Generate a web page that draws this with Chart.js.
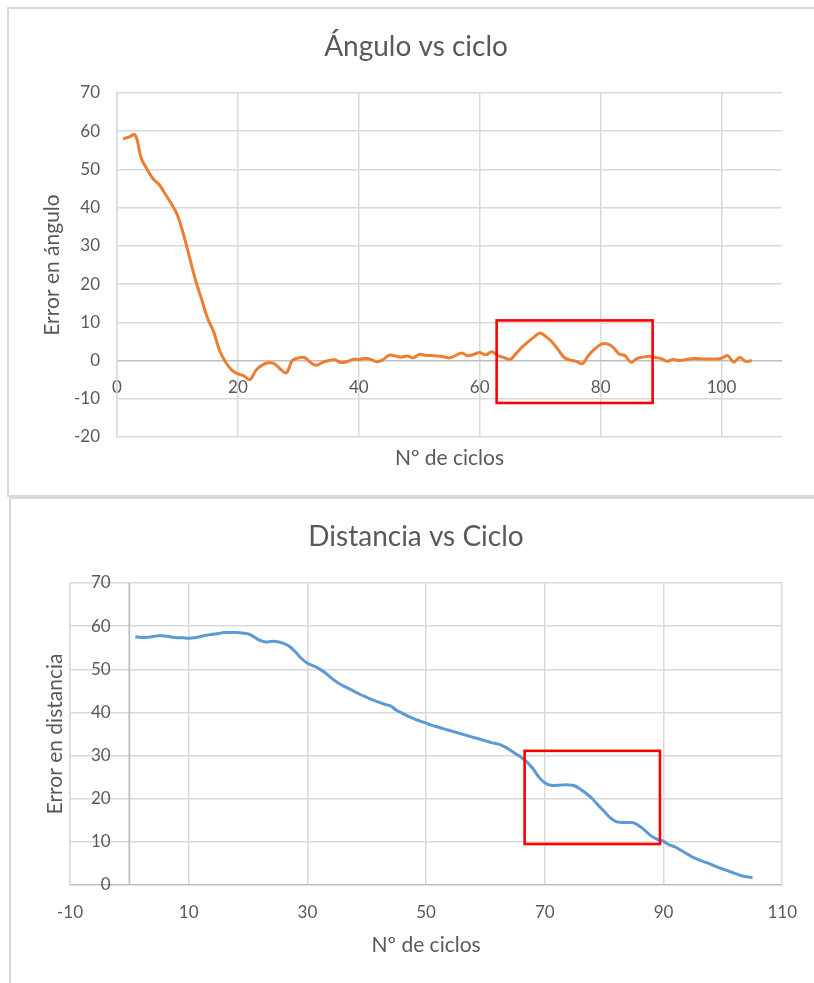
<!DOCTYPE html>
<html>
<head>
<meta charset="utf-8">
<script src="https://cdn.jsdelivr.net/npm/chart.js@4.4.1/dist/chart.umd.min.js"></script>
<style>
  html, body { margin: 0; padding: 0; background: #ffffff; width: 814px; height: 983px; overflow: hidden; }
  .frame { position: absolute; box-sizing: border-box; border: 2px solid #D9D9D9; border-right: none; }
  #frameAngle { left: 7px; top: 7px; width: 830px; height: 490px; }
  #frameDist { left: 9px; top: 497px; width: 830px; height: 520px; border-bottom: none; }
  canvas { position: absolute; left: 0; }
  #angleChart { top: 0; }
  #distChart { top: 497px; }
</style>
</head>
<body>
<div class="frame" id="frameAngle"></div>
<div class="frame" id="frameDist"></div>
<canvas id="angleChart" width="814" height="496"></canvas>
<canvas id="distChart" width="814" height="486"></canvas>
<script>
// Cycle numbers shared by both series
const cycles = [
  1, 2, 3, 4, 5, 6, 7, 8, 9, 10, 11, 12, 13, 14, 15, 16, 17, 18, 19, 20,
  21, 22, 23, 24, 25, 26, 27, 28, 29, 30, 31, 32, 33, 34, 35, 36, 37, 38, 39, 40,
  41, 42, 43, 44, 45, 46, 47, 48, 49, 50, 51, 52, 53, 54, 55, 56, 57, 58, 59, 60,
  61, 62, 63, 64, 65, 66, 67, 68, 69, 70, 71, 72, 73, 74, 75, 76, 77, 78, 79, 80,
  81, 82, 83, 84, 85, 86, 87, 88, 89, 90, 91, 92, 93, 94, 95, 96, 97, 98, 99, 100,
  101, 102, 103, 104, 105
];

// Angle error per cycle
const angleError = [
  58, 58.5, 59, 53, 50, 47.5, 46, 43.5, 41, 38,
  33, 27, 21, 16, 11, 7.5, 2.5, -0.5, -2.5, -3.5,
  -4, -5, -2.5, -1.2, -0.6, -0.8, -2.2, -3.2, 0, 0.7,
  0.8, -0.5, -1.2, -0.5, 0, 0.2, -0.5, -0.3, 0.3, 0.3,
  0.6, 0.3, -0.3, 0.2, 1.4, 1.2, 0.9, 1.2, 0.7, 1.6,
  1.4, 1.3, 1.2, 1.0, 0.7, 1.3, 2.0, 1.3, 1.6, 2.1,
  1.5, 2.3, 1.3, 0.8, 0.3, 1.8, 3.5, 4.9, 6.2, 7.2,
  6.2, 4.8, 2.8, 0.8, 0.1, -0.2, -0.8, 1.4, 3.0, 4.2,
  4.4, 3.6, 1.8, 1.3, -0.4, 0.5, 0.9, 1.1, 0.8, 0.5,
  -0.2, 0.3, 0, 0.2, 0.5, 0.5, 0.4, 0.4, 0.4, 0.6,
  1.3, -0.4, 0.8, -0.2, 0
];

// Distance error per cycle
const distanceError = [
  57.5, 57.4, 57.4, 57.6, 57.8, 57.7, 57.5, 57.3, 57.3, 57.2,
  57.3, 57.6, 57.9, 58.1, 58.3, 58.5, 58.5, 58.5, 58.4, 58.2,
  57.5, 56.7, 56.3, 56.5, 56.4, 56.0, 55.3, 54.0, 52.5, 51.4,
  50.8, 50.1, 49.2, 48.0, 47.0, 46.2, 45.5, 44.8, 44.1, 43.5,
  42.9, 42.4, 41.9, 41.5, 40.5, 39.8, 39.1, 38.5, 38.0, 37.5,
  37.0, 36.6, 36.2, 35.8, 35.4, 35.0, 34.6, 34.2, 33.8, 33.4,
  33.0, 32.7, 32.2, 31.4, 30.5, 29.6, 28.5, 27.0, 25.0, 23.7,
  23.1, 23.1, 23.2, 23.2, 23.0, 22.2, 21.2, 20.0, 18.5, 17.1,
  15.6, 14.7, 14.5, 14.5, 14.4, 13.6, 12.5, 11.3, 10.6, 10.1,
  9.3, 8.8, 8.0, 7.2, 6.4, 5.8, 5.3, 4.8, 4.2, 3.7,
  3.2, 2.7, 2.2, 1.9, 1.7
];

// Axis tick settings
const angleTicks = { min: -20, max: 70, step: 10 };
const angleCycleTicks = { min: 0, max: 110, step: 20 };
const distTicks = { min: 0, max: 70, step: 10 };
const distCycleTicks = { min: -10, max: 110, step: 20 };

// Highlighted regions (in data units)
const angleHighlight = { xMin: 62.8, xMax: 88.6, yMin: -11.1, yMax: 10.5 };
const distHighlight = { xMin: 66.6, xMax: 89.4, yMin: 9.5, yMax: 31.1 };

const FONT = "Lato, 'Open Sans', sans-serif";
const TEXT = '#595959';
const GRID = '#D9D9D9';
const AXIS = '#BFBFBF';
const TICK_SIZE = 17;

Chart.defaults.font.family = FONT;
Chart.defaults.color = TEXT;

const toPoints = (xs, ys) => xs.map((x, i) => ({ x, y: ys[i] }));

// Chart title and axis captions
const captions = {
  id: 'captions',
  afterDraw(chart, args, o) {
    const { ctx, chartArea: a } = chart;
    ctx.save();
    ctx.fillStyle = TEXT;
    ctx.textAlign = 'center';
    ctx.textBaseline = 'middle';
    ctx.font = `${o.titleSize}px ${FONT}`;
    ctx.fillText(o.title, o.titleX, o.titleY);
    ctx.font = `${o.axisSize}px ${FONT}`;
    ctx.fillText(o.xTitle, (a.left + a.right) / 2, a.bottom + o.xGap);
    ctx.translate(o.yTitleX, (a.top + a.bottom) / 2);
    ctx.rotate(-Math.PI / 2);
    ctx.fillText(o.yTitle, 0, 0);
    ctx.restore();
  }
};

// Red highlight rectangle placed through the chart scales
const highlight = {
  id: 'highlight',
  afterDatasetsDraw(chart, args, o) {
    if (!o.box) return;
    const { ctx, scales: { x, y } } = chart;
    const l = x.getPixelForValue(o.box.xMin), r = x.getPixelForValue(o.box.xMax);
    const t = y.getPixelForValue(o.box.yMax), b = y.getPixelForValue(o.box.yMin);
    ctx.save();
    ctx.strokeStyle = '#FF0000';
    ctx.lineWidth = 2.6;
    ctx.strokeRect(l, t, r - l, b - t);
    ctx.restore();
  }
};

// Vertical axis line at x = 0
const zeroLine = {
  id: 'zeroLine',
  beforeDatasetsDraw(chart, args, o) {
    if (!o.show) return;
    const { ctx, chartArea: a, scales: { x } } = chart;
    const px = x.getPixelForValue(0);
    ctx.save();
    ctx.strokeStyle = AXIS;
    ctx.lineWidth = 1.8;
    ctx.beginPath();
    ctx.moveTo(px, a.top);
    ctx.lineTo(px, a.bottom);
    ctx.stroke();
    ctx.restore();
  }
};

const gridColor = ctx => (ctx.tick && ctx.tick.value === 0 ? AXIS : GRID);

new Chart(document.getElementById('angleChart'), {
  type: 'line',
  data: {
    datasets: [{
      data: toPoints(cycles, angleError),
      borderColor: '#ED7D31',
      borderWidth: 3,
      pointRadius: 0,
      tension: 0.4,
      fill: false
    }]
  },
  plugins: [captions, highlight, zeroLine],
  options: {
    responsive: false,
    devicePixelRatio: 1,
    animation: false,
    layout: { padding: { left: 0, top: 93, right: 32, bottom: 59 } },
    plugins: {
      legend: { display: false },
      tooltip: { enabled: false },
      captions: {
        title: 'Ángulo vs ciclo', titleX: 416, titleY: 47, titleSize: 28,
        xTitle: 'Nº de ciclos', xGap: 21, axisSize: 21,
        yTitle: 'Error en ángulo', yTitleX: 52
      },
      highlight: { box: angleHighlight },
      zeroLine: { show: false }
    },
    scales: {
      x: {
        type: 'linear',
        position: { y: 0 },
        min: angleCycleTicks.min,
        max: angleCycleTicks.max,
        ticks: { stepSize: angleCycleTicks.step, includeBounds: false, padding: 17, font: { size: TICK_SIZE }, color: TEXT, maxRotation: 0 },
        grid: { color: GRID, lineWidth: 1.5, drawTicks: false },
        border: { display: false }
      },
      y: {
        min: angleTicks.min,
        max: angleTicks.max,
        afterFit: s => { s.width = 117; },
        ticks: { stepSize: angleTicks.step, padding: 17, font: { size: TICK_SIZE }, color: TEXT },
        grid: { color: gridColor, lineWidth: 1.5, drawTicks: false },
        border: { display: true, color: GRID, width: 1.5 }
      }
    }
  }
});

new Chart(document.getElementById('distChart'), {
  type: 'line',
  data: {
    datasets: [{
      data: toPoints(cycles, distanceError),
      borderColor: '#5B9BD5',
      borderWidth: 3,
      pointRadius: 0,
      tension: 0.4,
      fill: false
    }]
  },
  plugins: [captions, highlight, zeroLine],
  options: {
    responsive: false,
    devicePixelRatio: 1,
    animation: false,
    layout: { padding: { left: 70, top: 86, right: 31, bottom: 38 } },
    plugins: {
      legend: { display: false },
      tooltip: { enabled: false },
      captions: {
        title: 'Distancia vs Ciclo', titleX: 416, titleY: 40, titleSize: 28,
        xTitle: 'Nº de ciclos', xGap: 60, axisSize: 21,
        yTitle: 'Error en distancia', yTitleX: 55
      },
      highlight: { box: distHighlight },
      zeroLine: { show: true }
    },
    scales: {
      x: {
        type: 'linear',
        min: distCycleTicks.min,
        max: distCycleTicks.max,
        afterFit: s => { s.height = 60; },
        ticks: { stepSize: distCycleTicks.step, padding: 17, font: { size: TICK_SIZE }, color: TEXT, maxRotation: 0 },
        grid: { color: GRID, lineWidth: 1.5, drawTicks: false },
        border: { display: false }
      },
      y: {
        min: distTicks.min,
        max: distTicks.max,
        afterFit: s => { s.width = 0; },
        ticks: { stepSize: distTicks.step, mirror: true, crossAlign: 'far', padding: 21, font: { size: TICK_SIZE }, color: TEXT },
        grid: { color: gridColor, lineWidth: 1.5, drawTicks: false },
        border: { display: true, color: GRID, width: 1.5 }
      }
    }
  }
});
</script>
</body>
</html>
